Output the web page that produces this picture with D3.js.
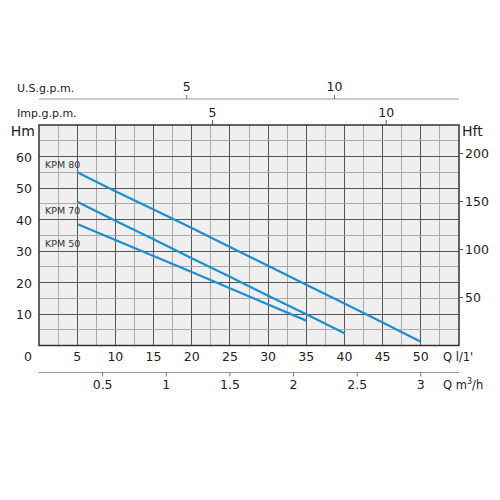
<!DOCTYPE html>
<html><head><meta charset="utf-8">
<script src="https://cdn.jsdelivr.net/npm/d3@7"></script>
<style>body{margin:0;background:#fff}text{font-family:"DejaVu Sans",sans-serif;fill:#222}</style>
</head><body><svg id="c" width="500" height="500"></svg>
<script>
// Data
const flowLpm = [5, 10, 15, 20, 25, 30, 35, 40, 45, 50];
const kpm80 = [55, 49, 43.2, 37.3, 31.3, 25.3, 19.3, 13.3, 7.3, 1.2];
const kpm70 = [45.6, 39.6, 33.7, 27.7, 21.8, 15.8, 9.9, 3.9];
const kpm50 = [38.6, 33.5, 28.4, 23.3, 18.2, 13.0, 7.9];
const seriesNames = ["KPM 80", "KPM 70", "KPM 50"];
const lpmTicks = [0, 5, 10, 15, 20, 25, 30, 35, 40, 45, 50];
const hmTicks = [10, 20, 30, 40, 50, 60];
const hftTicks = [50, 100, 150, 200];
const m3hTicks = [0.5, 1, 1.5, 2, 2.5, 3];
const usTicks = [5, 10];
const impTicks = [5, 10];
const US_LPM = 3.87, IMP_LPM = 4.546, M3H_LPM = 1000/60, M_FT = 3.2808;
// label anchor heights (Hm) for series names
const labelAt = [57.5, 43, 32.5];

const svg = d3.select("#c");
const L = 39, R = 459, T = 125, B = 345.5;
const NUM = 12.5;
const x = d3.scaleLinear().domain([0, 55]).range([L, R]);
const y = d3.scaleLinear().domain([0, 70]).range([B, T]);
const yft = d3.scaleLinear().domain([0, 70 * M_FT]).range([B, T]);

svg.append("rect").attr("x", L).attr("y", T).attr("width", R - L).attr("height", B - T).attr("fill", "#efefef");
// grid
const g = svg.append("g");
d3.range(2.5, 55, 2.5).forEach(v => {
  const major = v % 5 === 0;
  g.append("line").attr("x1", x(v)).attr("x2", x(v)).attr("y1", T).attr("y2", B)
    .attr("stroke", major ? "#555" : "#aaa").attr("stroke-width", 1).attr("shape-rendering", "crispEdges");
});
d3.range(5, 70, 5).forEach(v => {
  const major = v % 10 === 0;
  g.append("line").attr("x1", L).attr("x2", R).attr("y1", y(v)).attr("y2", y(v))
    .attr("stroke", major ? "#555" : "#aaa").attr("stroke-width", 1).attr("shape-rendering", "crispEdges");
});
svg.append("rect").attr("x", L).attr("y", T).attr("width", R - L).attr("height", B - T)
  .attr("fill", "none").attr("stroke", "#333").attr("stroke-width", 1.5);

// curves
const line = d3.line().x(d => x(d[0])).y(d => y(d[1]));
[kpm80, kpm70, kpm50].forEach(s => {
  svg.append("path").datum(s.map((h, i) => [flowLpm[i], h])).attr("d", line)
    .attr("fill", "none").attr("stroke", "#1b8fd3").attr("stroke-width", 2.2);
});
// series labels
seriesNames.forEach((n, i) => {
  svg.append("text").attr("x", 45).attr("y", y(labelAt[i]) + 4)
    .attr("font-size", 9.5).style("fill", "#333").text(n);
});

// left Hm axis
hmTicks.forEach(v => svg.append("text").attr("x", 32).attr("y", y(v) + 5).attr("text-anchor", "end").attr("font-size", NUM).text(v));
svg.append("text").attr("x", 35).attr("y", 136).attr("text-anchor", "end").attr("font-size", 14).text("Hm");
// right Hft axis
hftTicks.forEach(v => {
  svg.append("line").attr("x1", R).attr("x2", R + 4).attr("y1", yft(v)).attr("y2", yft(v)).attr("stroke", "#555");
  svg.append("text").attr("x", R + 6).attr("y", yft(v) + 5).attr("font-size", NUM).text(v);
});
svg.append("text").attr("x", 462).attr("y", 136).attr("font-size", 14).text("Hft");

// bottom l/min
lpmTicks.forEach(v => svg.append("text").attr("x", v === 0 ? x(v) - 11 : x(v)).attr("y", 361)
  .attr("text-anchor", "middle").attr("font-size", NUM).text(v));
svg.append("text").attr("x", 443).attr("y", 361).attr("font-size", 11.5).text("Q  l/1'");

// m3/h axis
const yM = 372.5;
svg.append("line").attr("x1", L).attr("x2", R).attr("y1", yM).attr("y2", yM).attr("stroke", "#999").attr("stroke-width", 1.2);
m3hTicks.forEach(v => {
  const px = x(v * M3H_LPM);
  svg.append("line").attr("x1", px).attr("x2", px).attr("y1", yM).attr("y2", yM + 4).attr("stroke", "#777");
  svg.append("text").attr("x", px).attr("y", 389).attr("text-anchor", "middle").attr("font-size", NUM).text(v);
});
const qm = svg.append("text").attr("x", 443).attr("y", 389).attr("font-size", 11.5);
qm.append("tspan").text("Q  m");
qm.append("tspan").attr("font-size", 8).attr("dy", -5).text("3");
qm.append("tspan").attr("dy", 5).text("/h");

// US gpm axis
const yU = 99;
svg.append("line").attr("x1", L).attr("x2", R).attr("y1", yU).attr("y2", yU).attr("stroke", "#999").attr("stroke-width", 1.2);
usTicks.forEach(v => {
  const px = x(v * US_LPM);
  svg.append("line").attr("x1", px).attr("x2", px).attr("y1", yU - 4).attr("y2", yU).attr("stroke", "#777");
  svg.append("text").attr("x", px).attr("y", 91).attr("text-anchor", "middle").attr("font-size", NUM).text(v);
});
svg.append("text").attr("x", 17).attr("y", 92).attr("font-size", 11).text("U.S.g.p.m.");
// Imp gpm
impTicks.forEach(v => {
  const px = x(v * IMP_LPM);
  svg.append("line").attr("x1", px).attr("x2", px).attr("y1", T - 5).attr("y2", T).attr("stroke", "#555");
  svg.append("text").attr("x", px).attr("y", 117).attr("text-anchor", "middle").attr("font-size", NUM).text(v);
});
svg.append("text").attr("x", 17).attr("y", 117).attr("font-size", 11).text("Imp.g.p.m.");
</script></body></html>
